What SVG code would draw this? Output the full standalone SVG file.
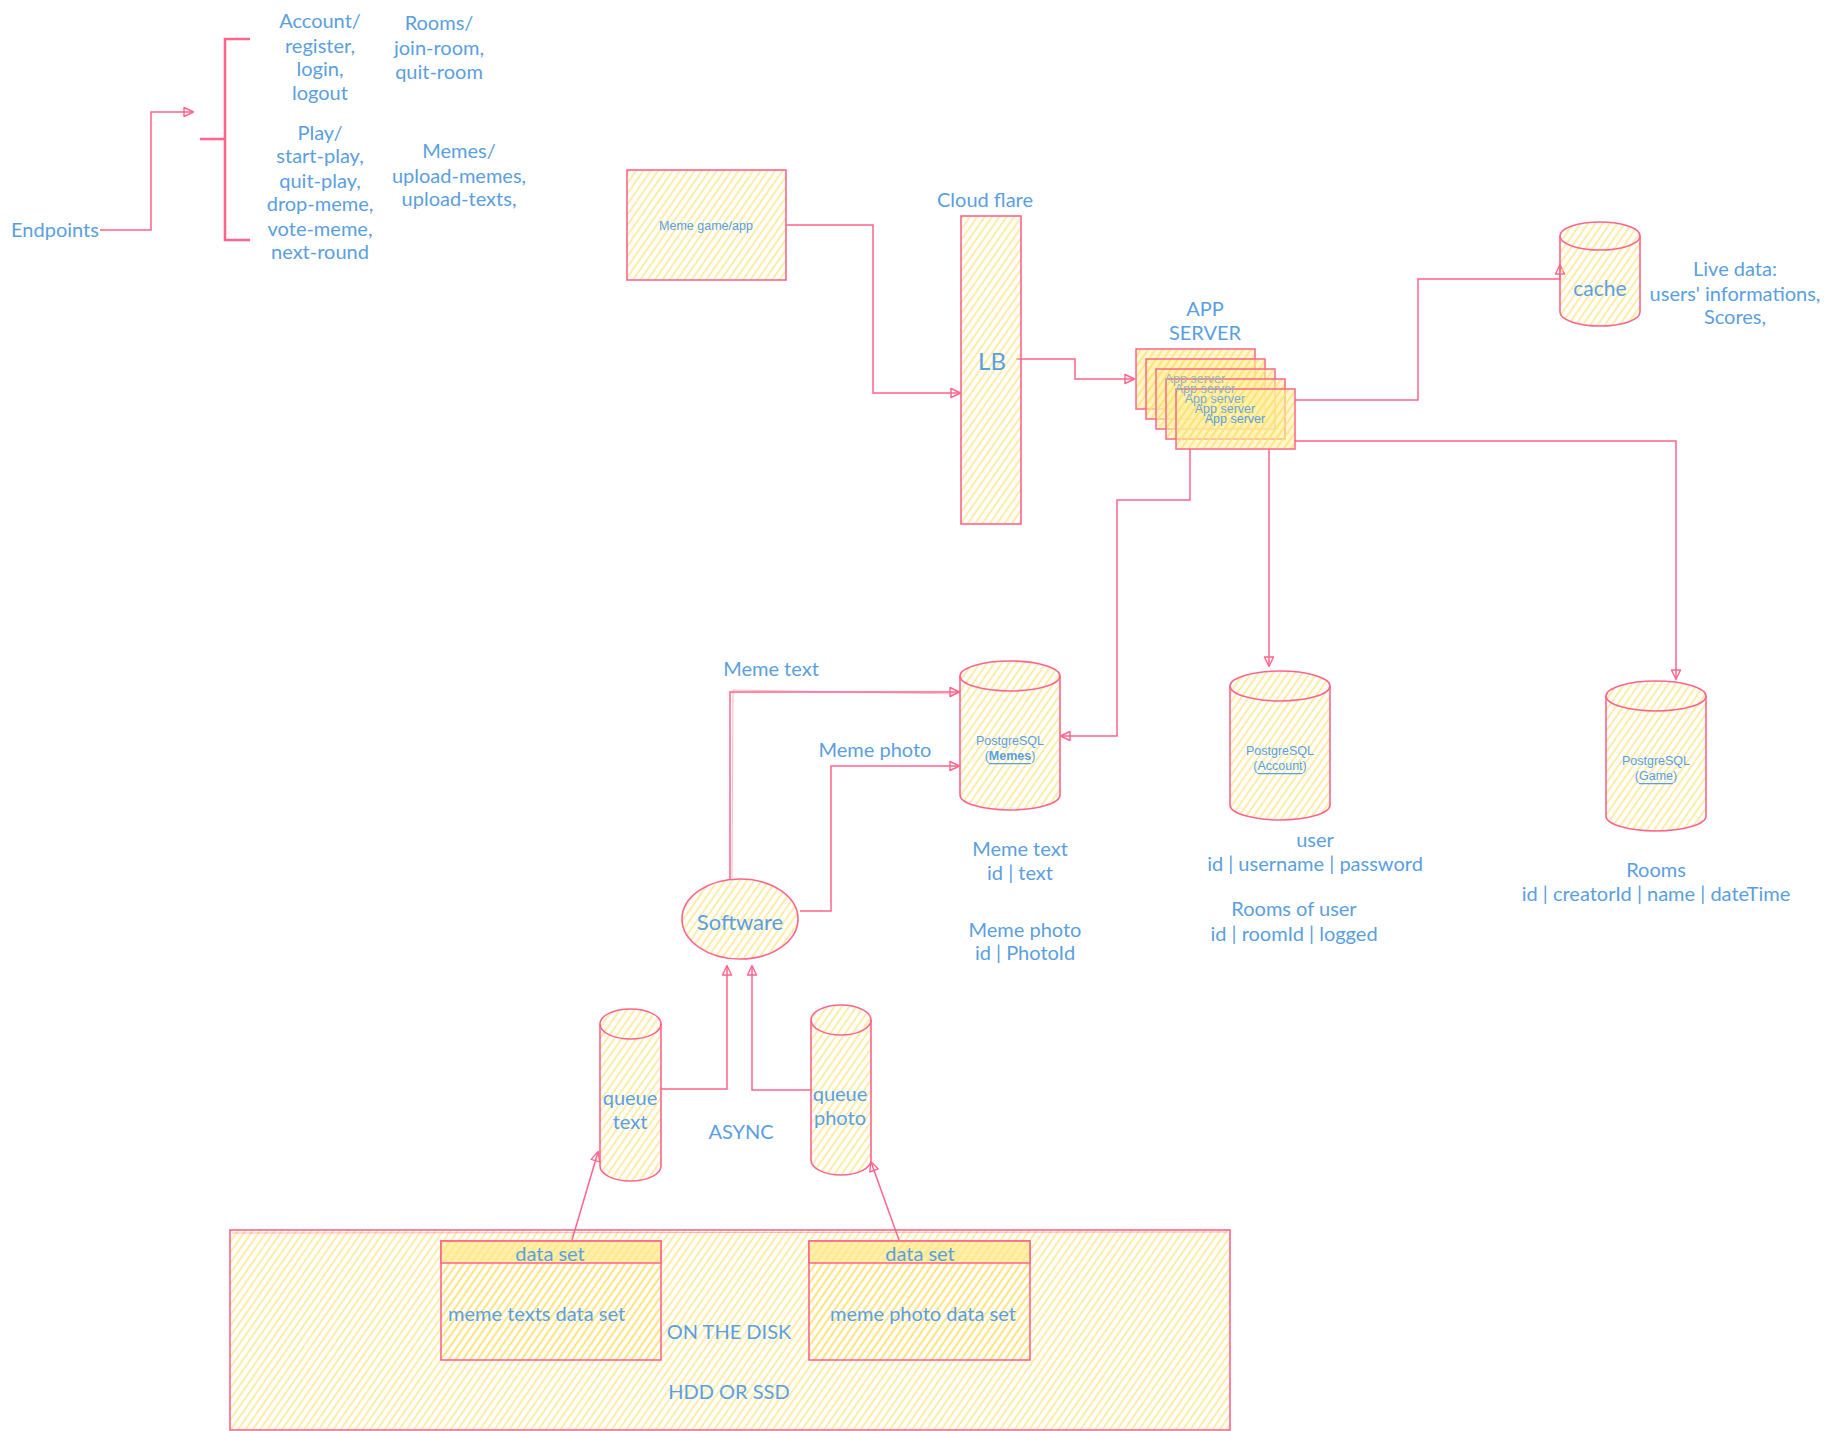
<svg xmlns="http://www.w3.org/2000/svg" width="1840" height="1431" viewBox="0 0 1840 1431">
<defs>
<pattern id="hatch" patternUnits="userSpaceOnUse" width="6" height="6" patternTransform="rotate(35)">
<line x1="1" y1="0" x2="1" y2="6" stroke="#ffe070" stroke-width="1.4" stroke-opacity="0.9"/>
</pattern>
<pattern id="hatch2" patternUnits="userSpaceOnUse" width="6" height="6" patternTransform="rotate(35)">
<rect width="6" height="6" fill="#fff1a8" fill-opacity="0.55"/>
<line x1="1" y1="0" x2="1" y2="6" stroke="#ffe070" stroke-width="1.5"/>
</pattern>
<marker id="arr" viewBox="0 0 12 12" refX="10" refY="6" markerWidth="12" markerHeight="12" markerUnits="userSpaceOnUse" orient="auto">
<path d="M1,1.5 L10.5,6 L1,10.5 Z" fill="none" stroke="#ff648c" stroke-width="1.4" stroke-linejoin="round"/>
</marker>
<style>
.hand{font-family:"Lato","Noto Sans",sans-serif;font-size:20px;fill:#5aa0e1;text-anchor:middle;dominant-baseline:central}
.sans{font-family:"Liberation Sans",Arial,sans-serif;font-size:12.5px;fill:#5aa0e1;text-anchor:middle;dominant-baseline:central}
.shape{fill:url(#hatch);stroke:#ff648c;stroke-width:1.6}
.shape2{fill:url(#hatch2);stroke:#ff648c;stroke-width:1.5}
.line{fill:none;stroke:#ff648c;stroke-width:1.6}
.conn{fill:none;stroke:#ff648c;stroke-width:1.5;marker-end:url(#arr)}
.conn2{fill:none;stroke:#ff648c;stroke-width:0.8;stroke-opacity:0.6}
</style>
</defs>
<rect width="1840" height="1431" fill="#ffffff"/>

<g id="disk">
<rect class="shape" x="230" y="1230" width="1000" height="200"/>
<path class="conn2" d="M232,1233 L1228,1232"/>
<text class="hand" x="729" y="1331">ON THE DISK</text>
<text class="hand" x="729" y="1391">HDD OR SSD</text>
</g>

<g id="dataset-text">
<rect class="shape" x="441" y="1241" width="220" height="119"/>
<rect x="441" y="1241" width="220" height="22" fill="#ffe98f" fill-opacity="0.75" stroke="#ff648c" stroke-width="1.5"/>
<text class="hand" x="550" y="1253">data set</text>
<text class="hand" x="448" y="1313" style="text-anchor:start">meme texts data set</text>
</g>

<g id="dataset-photo">
<rect class="shape" x="809" y="1241" width="221" height="119"/>
<rect x="809" y="1241" width="221" height="22" fill="#ffe98f" fill-opacity="0.75" stroke="#ff648c" stroke-width="1.5"/>
<text class="hand" x="920" y="1253">data set</text>
<text class="hand" x="830" y="1313" style="text-anchor:start">meme photo data set</text>
</g>

<g id="connectors">
<path class="conn" d="M100,230 L151,230 L151,112 L193,112"/>
<path class="conn" d="M786,225 L873,225 L873,393 L960,393"/>
<path class="conn" d="M1016,359 L1075,359 L1075,379 L1134,379"/>
<path class="conn" d="M1294,400 L1418,400 L1418,279 L1560,279 L1560,265"/>
<path class="conn" d="M1294,441 L1676,441 L1676,679"/>
<path class="conn" d="M1269,449 L1269,666"/>
<path class="conn" d="M1190,449 L1190,500 L1117,500 L1117,736 L1061,736"/>
<path class="conn" d="M730,880 L730,692 L959,692"/>
<path class="conn2" d="M732,878 L733,690 L955,694"/>
<path class="conn" d="M800,911 L831,911 L831,766 L959,766"/>
<path class="conn" d="M661,1089 L727,1089 L727,966"/>
<path class="conn" d="M811,1090 L752,1090 L752,966"/>
<path class="conn" d="M572,1240 L598,1152"/>
<path class="conn" d="M899,1240 L871,1162"/>
</g>

<g id="endpoints">
<text class="hand" x="55" y="229">Endpoints</text>
<path d="M250,39 L225,39 L225,240 L250,240 M200,139 L225,139" fill="none" stroke="#ff648c" stroke-width="2.6"/>
<text class="hand" x="320" y="20">Account/</text>
<text class="hand" x="320" y="45">register,</text>
<text class="hand" x="320" y="68">login,</text>
<text class="hand" x="320" y="92">logout</text>
<text class="hand" x="439" y="22">Rooms/</text>
<text class="hand" x="439" y="47">join-room,</text>
<text class="hand" x="439" y="71">quit-room</text>
<text class="hand" x="320" y="132">Play/</text>
<text class="hand" x="320" y="155">start-play,</text>
<text class="hand" x="320" y="180">quit-play,</text>
<text class="hand" x="320" y="203">drop-meme,</text>
<text class="hand" x="320" y="228">vote-meme,</text>
<text class="hand" x="320" y="251">next-round</text>
<text class="hand" x="459" y="150">Memes/</text>
<text class="hand" x="459" y="175">upload-memes,</text>
<text class="hand" x="459" y="198">upload-texts,</text>
</g>

<g id="app">
<rect class="shape" x="627" y="170" width="159" height="110"/>
<text class="sans" x="706" y="226">Meme game/app</text>
</g>

<g id="lb">
<text class="hand" x="985" y="199">Cloud flare</text>
<rect class="shape" x="961" y="216" width="60" height="308"/>
<text class="hand" x="992" y="360" style="font-size:24px">LB</text>
</g>

<g id="app-servers">
<text class="hand" x="1205" y="308">APP</text>
<text class="hand" x="1205" y="332">SERVER</text>
<rect class="shape2" x="1136" y="349" width="119" height="60"/>
<rect class="shape2" x="1146" y="359" width="119" height="60"/>
<rect class="shape2" x="1156" y="369" width="119" height="60"/>
<rect class="shape2" x="1166" y="379" width="119" height="60"/>
<rect class="shape2" x="1176" y="389" width="119" height="60"/>
<text class="sans" x="1195" y="379" style="fill:#9fb0b8">App server</text>
<text class="sans" x="1205" y="389" style="fill:#8fb0c8">App server</text>
<text class="sans" x="1215" y="399" style="fill:#7eaad2">App server</text>
<text class="sans" x="1225" y="409" style="fill:#6aa4da">App server</text>
<text class="sans" x="1235" y="419">App server</text>
</g>

<g id="cache">
<path class="shape" d="M1560,236 A40,14 0 0 1 1640,236 L1640,312 A40,14 0 0 1 1560,312 Z"/>
<path class="line" d="M1560,236 A40,14 0 0 0 1640,236"/>
<text class="hand" x="1600" y="287" style="font-size:21px">cache</text>
<text class="hand" x="1735" y="268">Live data:</text>
<text class="hand" x="1735" y="293">users' informations,</text>
<text class="hand" x="1735" y="316">Scores,</text>
</g>

<g id="db-memes">
<path class="shape" d="M960,676 A50,15 0 0 1 1060,676 L1060,795 A50,15 0 0 1 960,795 Z"/>
<path class="line" d="M960,676 A50,15 0 0 0 1060,676"/>
<text class="sans" x="1010" y="741">PostgreSQL</text>
<text class="sans" x="1010" y="756">(<tspan font-weight="bold" text-decoration="underline">Memes</tspan>)</text>
<text class="hand" x="1020" y="848">Meme text</text>
<text class="hand" x="1020" y="872">id | text</text>
<text class="hand" x="1025" y="929">Meme photo</text>
<text class="hand" x="1025" y="952">id | PhotoId</text>
</g>

<g id="db-account">
<path class="shape" d="M1230,686 A50,15 0 0 1 1330,686 L1330,805 A50,15 0 0 1 1230,805 Z"/>
<path class="line" d="M1230,686 A50,15 0 0 0 1330,686"/>
<text class="sans" x="1280" y="751">PostgreSQL</text>
<text class="sans" x="1280" y="766">(<tspan text-decoration="underline">Account</tspan>)</text>
<text class="hand" x="1315" y="839">user</text>
<text class="hand" x="1315" y="863">id | username | password</text>
<text class="hand" x="1294" y="908">Rooms of user</text>
<text class="hand" x="1294" y="933">id | roomId | logged</text>
</g>

<g id="db-game">
<path class="shape" d="M1606,696 A50,15 0 0 1 1706,696 L1706,816 A50,15 0 0 1 1606,816 Z"/>
<path class="line" d="M1606,696 A50,15 0 0 0 1706,696"/>
<text class="sans" x="1656" y="761">PostgreSQL</text>
<text class="sans" x="1656" y="776">(<tspan text-decoration="underline">Game</tspan>)</text>
<text class="hand" x="1656" y="869">Rooms</text>
<text class="hand" x="1656" y="893">id | creatorId | name | dateTime</text>
</g>

<g id="labels">
<text class="hand" x="771" y="668">Meme text</text>
<text class="hand" x="875" y="749">Meme photo</text>
<text class="hand" x="741" y="1131">ASYNC</text>
</g>

<g id="software">
<ellipse class="shape" cx="740" cy="919" rx="58" ry="40"/>
<text class="hand" x="740" y="921" style="font-size:22px">Software</text>
</g>

<g id="queue-text">
<path class="shape" d="M600,1024 A30.5,15 0 0 1 661,1024 L661,1166 A30.5,15 0 0 1 600,1166 Z"/>
<path class="line" d="M600,1024 A30.5,15 0 0 0 661,1024"/>
<text class="hand" x="630" y="1097">queue</text>
<text class="hand" x="630" y="1121">text</text>
</g>

<g id="queue-photo">
<path class="shape" d="M811,1020 A30,15 0 0 1 871,1020 L871,1160 A30,15 0 0 1 811,1160 Z"/>
<path class="line" d="M811,1020 A30,15 0 0 0 871,1020"/>
<text class="hand" x="840" y="1093">queue</text>
<text class="hand" x="840" y="1117">photo</text>
</g>
</svg>
